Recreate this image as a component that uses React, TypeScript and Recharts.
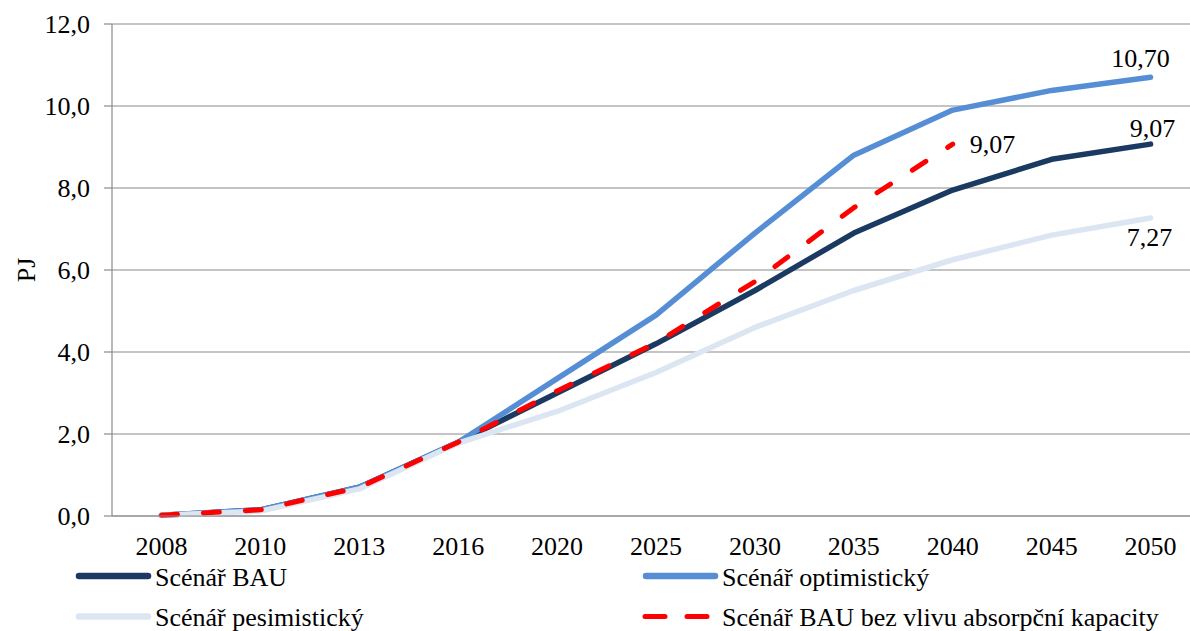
import React from "react";
import {
  LineChart,
  Line,
  XAxis,
  YAxis,
  CartesianGrid,
  Legend,
  LabelList,
} from "recharts";

const years = ["2008", "2010", "2013", "2016", "2020", "2025", "2030", "2035", "2040", "2045", "2050"];
const bau = [0.02, 0.15, 0.7, 1.8, 3.0, 4.2, 5.5, 6.9, 7.95, 8.7, 9.07];
const optimistic = [0.02, 0.15, 0.7, 1.8, 3.35, 4.9, 6.9, 8.8, 9.9, 10.38, 10.7];
const pessimistic = [0.02, 0.12, 0.66, 1.78, 2.55, 3.5, 4.6, 5.5, 6.25, 6.85, 7.27];
const bauNoLimit = [0.02, 0.15, 0.7, 1.8, 3.05, 4.22, 5.72, 7.52, 9.07, null, null];
const yTicks = [0, 2, 4, 6, 8, 10, 12];

const series = [
  { key: "bau", name: "Scénář BAU", color: "#1b3a62", dashed: false },
  { key: "opt", name: "Scénář optimistický", color: "#558ed5", dashed: false },
  { key: "pes", name: "Scénář pesimistický", color: "#dce6f2", dashed: false },
  { key: "red", name: "Scénář BAU bez vlivu absorpční kapacity", color: "#ff0000", dashed: true },
];

const rows = years.map((year, i) => ({
  i,
  year,
  bau: bau[i],
  opt: optimistic[i],
  pes: pessimistic[i],
  red: bauNoLimit[i],
}));

const idx = years.map((_, i) => i);
const edges = [...idx.map((i) => i - 0.5), years.length - 0.5];

const FONT = "Liberation Serif, Tinos, Times New Roman, DejaVu Serif, serif";
const GRID = "#8a8a8a";

const comma = (v: number, d: number) => v.toFixed(d).replace(".", ",");

// value label drawn only at the last point of a series
function endLabel(last: number, dx: number, dy: number, anchor: "start" | "middle" | "end") {
  return (p: any) => {
    if (p.index !== last || p.value == null) return null;
    const x = Number(p.x ?? p.viewBox?.x);
    const y = Number(p.y ?? p.viewBox?.y);
    return (
      <text x={x + dx} y={y + dy} textAnchor={anchor} fontSize={26} fill="#000" style={{ fontFamily: FONT }}>
        {comma(Number(p.value), 2)}
      </text>
    );
  };
}

function LegendBox() {
  const cols = [76, 643];
  const rowsY = [21, 61.5];
  return (
    <svg width={1190} height={76} style={{ display: "block", fontFamily: FONT }}>
      {series.map((s, n) => {
        const x = cols[n % 2];
        const y = rowsY[Math.floor(n / 2)];
        return (
          <g key={s.key}>
            {s.dashed ? (
              <g stroke={s.color} strokeWidth={5} strokeLinecap="round">
                <line x1={x + 2} y1={y} x2={x + 22} y2={y} />
                <line x1={x + 44} y1={y} x2={x + 64} y2={y} />
              </g>
            ) : (
              <line x1={x + 3} y1={y} x2={x + 72} y2={y} stroke={s.color} strokeWidth={6.5} strokeLinecap="round" />
            )}
            <text x={x + 79} y={y + 9.5} fontSize={26} fill="#000" style={{ fontFamily: FONT }}>
              {s.name}
            </text>
          </g>
        );
      })}
    </svg>
  );
}

export default function App() {
  return (
    <div
      style={{
        position: "fixed",
        left: 0,
        top: 0,
        width: 1190,
        height: 631,
        overflow: "hidden",
        background: "#fff",
        fontFamily: FONT,
      }}
    >
      <LineChart
        width={1212}
        height={631}
        data={rows}
        margin={{ top: 24, right: 12, left: 0, bottom: 74 }}
        style={{ fontFamily: FONT }}
      >
        <CartesianGrid vertical={false} stroke={GRID} strokeWidth={1.2} />
        <XAxis
          xAxisId="edge"
          dataKey="i"
          type="number"
          domain={[-0.5, years.length - 0.5]}
          ticks={edges}
          tick={false}
          tickSize={8}
          height={1}
          stroke={GRID}
          strokeWidth={1.2}
          allowDecimals
        />
        <XAxis
          xAxisId="yr"
          dataKey="i"
          type="number"
          domain={[-0.5, years.length - 0.5]}
          ticks={idx}
          tickFormatter={(v) => years[v] ?? ""}
          tickLine={false}
          axisLine={false}
          tickSize={0}
          tickMargin={20}
          height={40}
          tick={{ fill: "#000", fontSize: 26, style: { fontFamily: FONT } }}
        />
        <YAxis
          width={112}
          domain={[0, 12]}
          ticks={yTicks}
          tickFormatter={(v) => comma(Number(v), 1)}
          tickSize={8}
          tickMargin={14}
          stroke={GRID}
          strokeWidth={1.2}
          tick={{ fill: "#000", fontSize: 26, style: { fontFamily: FONT } }}
          label={{
            content: (p: any) => {
              const vb = p.viewBox ?? { y: 24, height: 492 };
              const cy = vb.y + vb.height / 2;
              return (
                <text
                  x={26}
                  y={cy}
                  transform={`rotate(-90 26 ${cy})`}
                  textAnchor="middle"
                  dominantBaseline="central"
                  fontSize={26}
                  fill="#000"
                  style={{ fontFamily: FONT }}
                >
                  PJ
                </text>
              );
            },
          }}
        />
        <Legend
          verticalAlign="middle"
          align="center"
          layout="horizontal"
          wrapperStyle={{ top: 555, left: 0, width: 1190, height: 76 }}
          content={() => <LegendBox />}
        />
        <Line
          xAxisId="yr"
          dataKey="bau"
          name={series[0].name}
          stroke={series[0].color}
          strokeWidth={5.5}
          strokeLinecap="round"
          strokeLinejoin="round"
          dot={false}
          activeDot={false}
          isAnimationActive={false}
        >
          <LabelList dataKey="bau" content={endLabel(10, 2, -7, "middle")} />
        </Line>
        <Line
          xAxisId="yr"
          dataKey="opt"
          name={series[1].name}
          stroke={series[1].color}
          strokeWidth={5.5}
          strokeLinecap="round"
          strokeLinejoin="round"
          dot={false}
          activeDot={false}
          isAnimationActive={false}
        >
          <LabelList dataKey="opt" content={endLabel(10, -10, -10, "middle")} />
        </Line>
        <Line
          xAxisId="yr"
          dataKey="pes"
          name={series[2].name}
          stroke={series[2].color}
          strokeWidth={5.5}
          strokeLinecap="round"
          strokeLinejoin="round"
          dot={false}
          activeDot={false}
          isAnimationActive={false}
        >
          <LabelList dataKey="pes" content={endLabel(10, -1, 28, "middle")} />
        </Line>
        <Line
          xAxisId="yr"
          dataKey="red"
          name={series[3].name}
          stroke={series[3].color}
          strokeWidth={5}
          strokeDasharray="16 26"
          strokeLinecap="round"
          strokeLinejoin="round"
          dot={false}
          activeDot={false}
          connectNulls={false}
          isAnimationActive={false}
        >
          <LabelList dataKey="red" content={endLabel(8, 17, 9, "start")} />
        </Line>
      </LineChart>
    </div>
  );
}
